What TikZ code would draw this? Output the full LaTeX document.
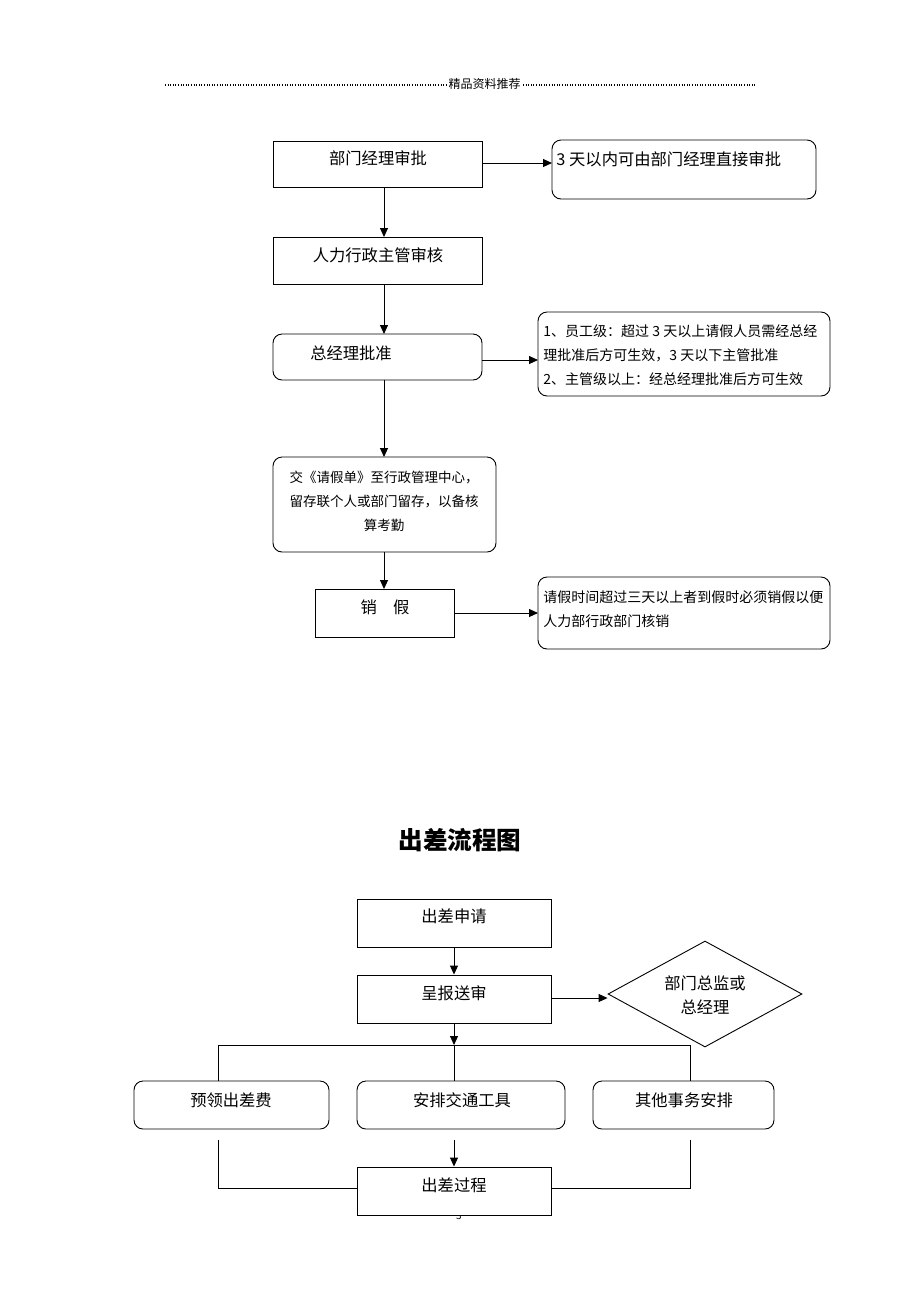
\documentclass[tikz,border=0pt]{standalone}
\usepackage{fontspec}
\setmainfont{Noto Sans CJK SC}
\usetikzlibrary{arrows.meta,shapes.geometric}
\begin{document}
\begin{tikzpicture}[x=1pt,y=-1pt,
  every path/.style={line width=0.9pt},
  box/.style={draw,line width=0.9pt,inner sep=0pt},
  rbox/.style={draw,line width=0.9pt,rounded corners=9pt,inner sep=0pt},
  big/.style={font=\fontsize{16.3}{19}\selectfont,inner sep=0pt},
  small/.style={font=\fontsize{14}{24}\selectfont,inner sep=0pt},
  mid/.style={font=\fontsize{13.5}{24}\selectfont,inner sep=0pt},
  arr/.style={-{Triangle[length=9pt,width=8pt]},line width=0.9pt}]
\useasboundingbox[fill=white] (0,0) rectangle (920,1302);
% header
\draw[line width=1.1pt,dash pattern=on 1pt off 1.6pt] (165,85) -- (446,85);
\draw[line width=1.1pt,dash pattern=on 1pt off 1.6pt] (523,85) -- (757,85);
\node[font=\fontsize{12}{14}\selectfont,inner sep=0pt] (hdr) at (484.5,84) {精品资料推荐};
% ---- leave flow ----
\draw[box] (273,141) rectangle (482,187);
\node[big] (a1) at (378,158) {部门经理审批};
\coordinate (a1r) at (482,163);
\draw[rbox] (552,140) rectangle (816,199);
\node[big,anchor=west] (n1) at (556,159) {3 天以内可由部门经理直接审批};
\coordinate (n1l) at (552,163);
\draw[arr] (a1r) -- (n1l);

\draw[box] (273,237) rectangle (482,284);
\node[big] (a2) at (378,255) {人力行政主管审核};
\draw[arr] (384,187) -- (384,237);

\draw[rbox] (273,334) rectangle (482,380);
\node[big] (a3) at (351,353) {总经理批准};
\draw[arr] (384,284) -- (384,334);

\draw[rbox] (538,312) rectangle (830,396);
\node[small,anchor=north west,align=left] (n2) at (543,324) {1、员工级：超过 3 天以上请假人员需经总经\\理批准后方可生效，3 天以下主管批准\\2、主管级以上：经总经理批准后方可生效};
\draw[arr] (482,360) -- (538,360);

\draw[rbox] (273,457) rectangle (496,552);
\node[mid,align=center] (a4) at (384,501) {交《请假单》至行政管理中心，\\留存联个人或部门留存，以备核\\算考勤};
\draw[arr] (384,380) -- (384,457);

\draw[box] (315,589) rectangle (454,637);
\node[big] (a5) at (385,607) {销\hspace{1em}假};
\draw[arr] (384,552) -- (384,589);

\draw[rbox] (538,577) rectangle (830,649);
\node[small,anchor=north west,align=left] (n3) at (543,590) {请假时间超过三天以上者到假时必须销假以便\\人力部行政部门核销};
\draw[arr] (454,613) -- (538,613);

% ---- title ----
\node[font=\fontsize{24.6}{28}\selectfont\bfseries,inner sep=0pt] (title) at (460,840) {出差流程图};

% ---- trip flow ----
\node[box,minimum width=194,minimum height=48] (b1) at (454,923) {};
\node[big] (b1t) at (454,916) {出差申请};
\node[box,minimum width=194,minimum height=48] (b2) at (454,999) {};
\node[big] (b2t) at (454,993) {呈报送审};
\draw[arr] (b1.south) -- (b2.north);
\node[draw,diamond,aspect=1.7,minimum width=194,minimum height=106,inner sep=0pt] (d) at (705,994) {};
\node[big,align=center,font=\fontsize{16.3}{24}\selectfont] (dt) at (705,995) {部门总监或\\总经理};
\draw[arr] (b2.east |- 0,998) -- (d.west |- 0,998);

\node[rbox,minimum width=195,minimum height=48] (c1) at (231.5,1105) {};
\node[big] (c1t) at (231,1100) {预领出差费};
\node[rbox,minimum width=208,minimum height=48] (c2) at (461,1105) {};
\node[big] (c2t) at (462,1100) {安排交通工具};
\node[rbox,minimum width=181,minimum height=48] (c3) at (683.5,1105) {};
\node[big] (c3t) at (684,1100) {其他事务安排};

\coordinate (j) at (454,1045);
\draw[arr] (b2.south) -- (j);
\draw (218,1081) -- (218,1045) -- (690,1045) -- (690,1081);
\draw (j) -- (454,1081);

\node[font=\fontsize{10}{12}\selectfont,inner sep=0pt] (pg) at (459,1216) {3};
\node[box,fill=white,minimum width=194,minimum height=48] (e) at (454,1191) {};
\node[big] (et) at (454,1185) {出差过程};
\draw[arr] (454,1140) -- (e.north);
\draw (218,1140) -- (218,1188) -- (e.west |- 0,1188);
\draw (690,1140) -- (690,1188) -- (e.east |- 0,1188);
\end{tikzpicture}
\end{document}
